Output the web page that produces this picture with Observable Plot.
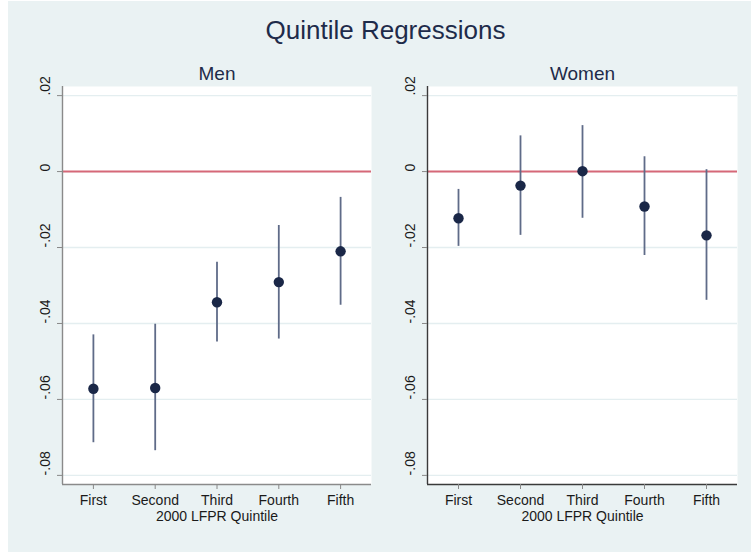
<!DOCTYPE html>
<html>
<head>
<meta charset="utf-8">
<script src="https://cdn.jsdelivr.net/npm/d3@7"></script>
<script src="https://cdn.jsdelivr.net/npm/@observablehq/plot@0.6"></script>
<style>
  body { margin:0; background:#ffffff; width:751px; height:552px; overflow:hidden; position:relative; font-family:"Liberation Sans", Arial, sans-serif; }
  #bg { position:absolute; left:8px; top:1px; width:743px; height:551px; background:#eaf2f3; }
  #title { position:absolute; left:8px; width:755px; top:14px; text-align:center; font-size:26px; line-height:32px; color:#1e2b4a; }
  .panel { position:absolute; top:60px; }
</style>
</head>
<body>
<div id="bg"></div>
<div id="title">Quintile Regressions</div>
<div id="men" class="panel" style="left:0px"></div>
<div id="women" class="panel" style="left:365px"></div>
<script>
const quintiles = ["First", "Second", "Third", "Fourth", "Fifth"];
const yTicks = [0.02, 0, -0.02, -0.04, -0.06, -0.08];
const yTickLabels = [".02", "0", "-.02", "-.04", "-.06", "-.08"];

const menEst = [-0.0572, -0.0570, -0.0344, -0.0291, -0.0210];
const menLo  = [-0.0714, -0.0735, -0.0449, -0.0441, -0.0352];
const menHi  = [-0.0430, -0.0402, -0.0239, -0.0142, -0.0068];

const womenEst = [-0.0123, -0.0037, 0.0001, -0.0092, -0.0168];
const womenLo  = [-0.0197, -0.0168, -0.0123, -0.0221, -0.0339];
const womenHi  = [-0.0047, 0.0094, 0.0121, 0.0039, 0.0005];

const yDomain = [-0.0824, 0.0224];

function panel(name, est, lo, hi, axisColor, marginRight) {
  const rows = quintiles.map((q, i) => ({pos: i + 1, q, est: est[i], lo: lo[i], hi: hi[i]}));
  const tickLab = new Map(yTicks.map((t, i) => [t, yTickLabels[i]]));
  return Plot.plot({
    width: 376,
    height: 470,
    marginLeft: 62,
    marginRight: marginRight,
    marginTop: 26,
    marginBottom: 46,
    style: {background: "transparent", fontFamily: "Liberation Sans, Arial, sans-serif", color: "#222", overflow: "visible"},
    x: {domain: [0.5, quintiles.length + 0.5], axis: null},
    y: {domain: yDomain, axis: null},
    marks: [
      Plot.frame({fill: "white", stroke: null}),
      Plot.gridY(yTicks, {stroke: "#e4eef0", strokeOpacity: 1, strokeWidth: 1.3}),
      Plot.ruleY([0], {stroke: "#d66878", strokeWidth: 2}),
      Plot.ruleX([0.5], {stroke: axisColor, strokeWidth: 1.4}),
      Plot.ruleY([yDomain[0]], {stroke: axisColor, strokeWidth: 1.4}),
      Plot.axisY({ticks: yTicks, tickFormat: () => "", tickSize: 5, stroke: "#888"}),
      Plot.text(yTicks, {y: d => d, text: d => tickLab.get(d), frameAnchor: "left", dx: -17, rotate: -90, fontSize: 14, fill: "#1a1a1a"}),
      Plot.axisX({ticks: quintiles.map((q, i) => i + 1), tickFormat: () => "", tickSize: 5, stroke: "#888", label: null}),
      Plot.text(rows, {x: "pos", text: "q", frameAnchor: "bottom", lineAnchor: "middle", dy: 16, fontSize: 14, fill: "#1a1a1a"}),
      Plot.text(["2000 LFPR Quintile"], {frameAnchor: "bottom", lineAnchor: "middle", dy: 32, fontSize: 14, fill: "#1a1a1a"}),
      Plot.text([name], {frameAnchor: "top", lineAnchor: "middle", dy: -13, fontSize: 19, fill: "#1e2b4a"}),
      Plot.ruleX(rows, {x: "pos", y1: "lo", y2: "hi", stroke: "#5f6b88", strokeWidth: 1.8}),
      Plot.dot(rows, {x: "pos", y: "est", r: 5.2, fill: "#1a2747", stroke: null})
    ]
  });
}

document.getElementById("men").appendChild(panel("Men", menEst, menLo, menHi, "#8a8a8a", 5));
document.getElementById("women").appendChild(panel("Women", womenEst, womenLo, womenHi, "#3a3a3a", 4));
</script>
</body>
</html>
